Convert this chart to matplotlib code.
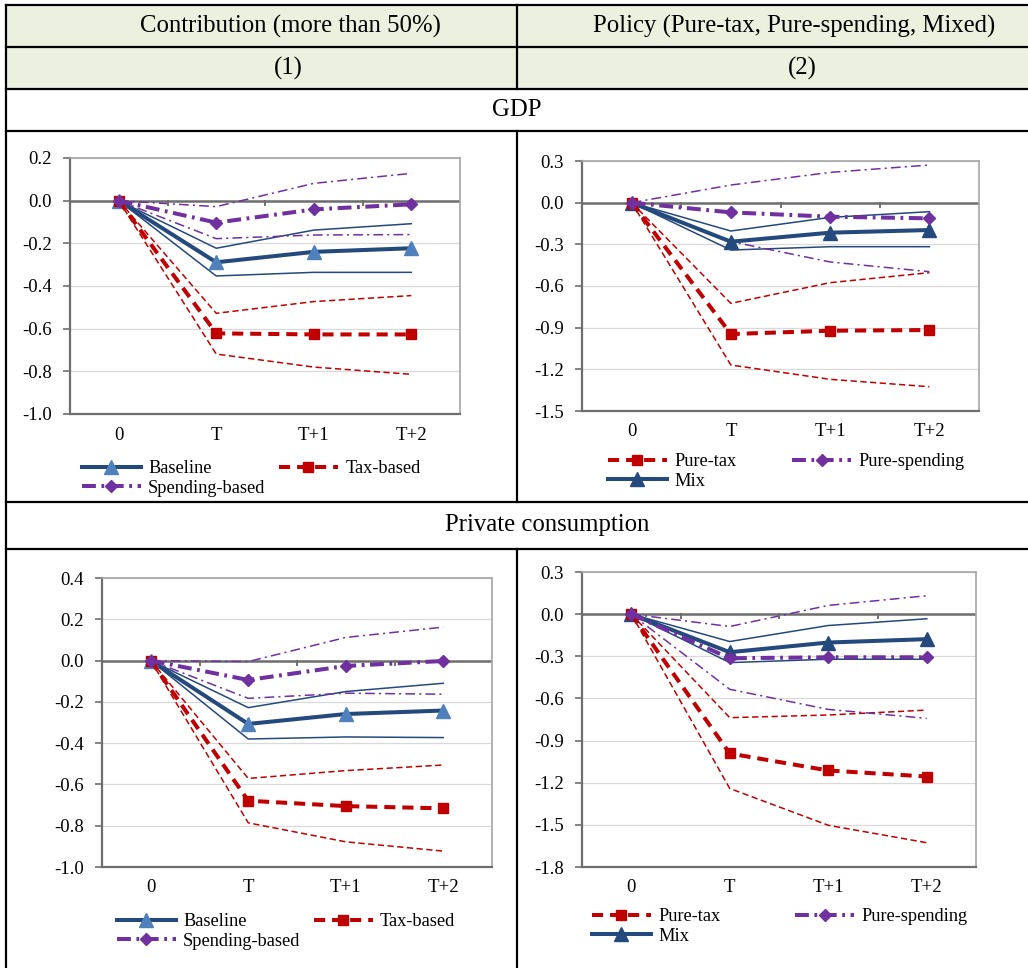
import matplotlib
matplotlib.use("Agg")
import numpy as np
import matplotlib.pyplot as plt
from matplotlib.lines import Line2D
from matplotlib.patches import Rectangle
from matplotlib.ticker import FuncFormatter

plt.rcParams['font.family'] = ['Liberation Serif', 'DejaVu Serif']
plt.rcParams['lines.scale_dashes'] = False
plt.rcParams['axes.unicode_minus'] = False

W, H = 1028, 968

periods = ['0', 'T', 'T+1', 'T+2']

# GDP - contribution split (col 1)
gdp_base = [0, -0.289, -0.240, -0.223]
gdp_base_hi = [0, -0.223, -0.138, -0.108]
gdp_base_lo = [0, -0.353, -0.336, -0.336]
gdp_tax = [0, -0.622, -0.627, -0.627]
gdp_tax_hi = [0, -0.528, -0.473, -0.445]
gdp_tax_lo = [0, -0.719, -0.780, -0.814]
gdp_spend = [0, -0.103, -0.041, -0.017]
gdp_spend_hi = [0, -0.028, 0.081, 0.128]
gdp_spend_lo = [0, -0.178, -0.161, -0.159]

# GDP - policy type (col 2)
gdp_pure_tax = [0, -0.946, -0.922, -0.917]
gdp_pure_tax_hi = [0, -0.725, -0.576, -0.504]
gdp_pure_tax_lo = [0, -1.169, -1.272, -1.325]
gdp_pure_spend = [0, -0.070, -0.101, -0.113]
gdp_pure_spend_hi = [0, 0.127, 0.218, 0.271]
gdp_pure_spend_lo = [0, -0.280, -0.427, -0.497]
gdp_mix = [0, -0.281, -0.216, -0.197]
gdp_mix_hi = [0, -0.204, -0.106, -0.065]
gdp_mix_lo = [0, -0.341, -0.317, -0.317]

# private consumption - contribution split (col 1)
pc_base = [0, -0.307, -0.259, -0.242]
pc_base_hi = [0, -0.228, -0.150, -0.110]
pc_base_lo = [0, -0.380, -0.370, -0.373]
pc_tax = [0, -0.679, -0.705, -0.716]
pc_tax_hi = [0, -0.571, -0.533, -0.506]
pc_tax_lo = [0, -0.786, -0.878, -0.923]
pc_spend = [0, -0.094, -0.026, -0.002]
pc_spend_hi = [0, -0.005, 0.112, 0.162]
pc_spend_lo = [0, -0.183, -0.158, -0.163]

# private consumption - policy type (col 2)
pc_pure_tax = [0, -0.992, -1.113, -1.156]
pc_pure_tax_hi = [0, -0.737, -0.718, -0.683]
pc_pure_tax_lo = [0, -1.241, -1.503, -1.627]
pc_pure_spend = [0, -0.314, -0.307, -0.307]
pc_pure_spend_hi = [0, -0.088, 0.062, 0.131]
pc_pure_spend_lo = [0, -0.535, -0.678, -0.742]
pc_mix = [0, -0.271, -0.202, -0.178]
pc_mix_hi = [0, -0.195, -0.081, -0.033]
pc_mix_lo = [0, -0.345, -0.321, -0.321]

BLUE = '#24497D'
LBLUE = '#4F81BD'
RED = '#C00000'
PURPLE = '#7030A0'
AXGRAY = '#6E6E6E'

# thick line styles (point estimate) and thin band styles
sty_blue = dict(color=BLUE, lw=2.9, marker='^', ms=10, mfc=LBLUE, mec=LBLUE)
sty_mix = dict(color=BLUE, lw=2.9, marker='^', ms=10, mfc=BLUE, mec=BLUE)
sty_red = dict(color=RED, lw=2.9, dashes=(8, 5), marker='s', ms=7.5, mfc=RED, mec=RED)
sty_purple = dict(color=PURPLE, lw=2.9, dashes=(10, 4, 2, 4), marker='D', ms=6.5, mfc=PURPLE, mec=PURPLE)
band_blue = dict(color=BLUE, lw=1.1)
band_red = dict(color=RED, lw=1.1, dashes=(4.5, 2.5))
band_purple = dict(color=PURPLE, lw=1.1, dashes=(7, 3, 1.5, 3))


def fx(x):
    return x / W


def fy(y):
    return 1 - y / H


fig = plt.figure(figsize=(W / 100, H / 100), dpi=100)

# table header shading
fig.add_artist(Rectangle((fx(6), fy(89)), fx(W - 6), 84 / H, transform=fig.transFigure,
                         facecolor='#EBF1DE', edgecolor='none', zorder=0))

for y in [5, 47, 89, 131, 502, 549]:
    fig.add_artist(Line2D([fx(6), fx(W)], [fy(y), fy(y)], transform=fig.transFigure, color='black', lw=1.6))
fig.add_artist(Line2D([fx(6), fx(6)], [fy(5), fy(H)], transform=fig.transFigure, color='black', lw=1.6))
for y0, y1 in [(5, 89), (131, 502), (549, H)]:
    fig.add_artist(Line2D([fx(517), fx(517)], [fy(y0), fy(y1)], transform=fig.transFigure, color='black', lw=1.6))

hdr = dict(ha='center', va='center', fontsize=17.8)
fig.text(fx(290), fy(26), 'Contribution (more than 50%)', **hdr)
fig.text(fx(794), fy(26), 'Policy (Pure-tax, Pure-spending, Mixed)', **hdr)
fig.text(fx(288), fy(68), '(1)', **hdr)
fig.text(fx(802), fy(68), '(2)', **hdr)
fig.text(fx(517), fy(110), 'GDP', **hdr)
fig.text(fx(547), fy(525), 'Private consumption', **hdr)


def panel(box, ylim, step, series, order, leg_xy, colsp):
    left, top, right, bottom = box
    ax = fig.add_axes([fx(left), fy(bottom), (right - left) / W, (bottom - top) / H])
    x = np.arange(len(periods))
    handles = {}
    for label, mid, lo, hi, sty, bsty in series:
        ax.plot(x, lo, zorder=2, **bsty)
        ax.plot(x, hi, zorder=2, **bsty)
    for label, mid, lo, hi, sty, bsty in series:
        handles[label], = ax.plot(x, mid, zorder=3, label=label, **sty)

    ymin, ymax = ylim
    ax.set_xlim(-0.5, len(periods) - 0.5)
    ax.set_ylim(ymin, ymax)
    ticks = np.arange(ymin, ymax + step / 2, step)
    ax.set_yticks(ticks)
    ax.yaxis.set_major_formatter(FuncFormatter(lambda v, p: f'{round(v, 1) + 0.0:.1f}'))
    ax.grid(axis='y', color='#D9D9D9', lw=0.9, zorder=0)
    ax.set_axisbelow(True)
    ax.axhline(0, color=AXGRAY, lw=1.8, zorder=1)
    # category boundary ticks on the zero line
    z = (0 - ymin) / (ymax - ymin)
    tl = 4 / (bottom - top)
    for b in np.arange(0.5, len(periods) - 1, 1):
        ax.plot([b, b], [z, z - tl], color=AXGRAY, lw=1.4, transform=ax.get_xaxis_transform(), clip_on=False)

    ax.set_xticks(x, periods)
    ax.tick_params(axis='x', length=0, pad=9, labelsize=13.5)
    ax.tick_params(axis='y', length=5, width=1.2, color=AXGRAY, pad=8, labelsize=13.5)
    for s in ['left', 'bottom']:
        ax.spines[s].set_color(AXGRAY)
        ax.spines[s].set_linewidth(1.6)
    for s in ['top', 'right']:
        ax.spines[s].set_color('#A6A6A6')
        ax.spines[s].set_linewidth(1.2)

    ax.legend([handles[k] for k in order], order, ncol=2, loc='upper left',
              bbox_to_anchor=(fx(leg_xy[0]), fy(leg_xy[1])), bbox_transform=fig.transFigure,
              frameon=False, fontsize=13.2, handlelength=3.2, handletextpad=0.4,
              columnspacing=colsp, labelspacing=0.15, borderpad=0, borderaxespad=0, numpoints=1)
    return ax


panel((70, 158, 460, 414), (-1.0, 0.2), 0.2,
      [('Baseline', gdp_base, gdp_base_lo, gdp_base_hi, sty_blue, band_blue),
       ('Tax-based', gdp_tax, gdp_tax_lo, gdp_tax_hi, sty_red, band_red),
       ('Spending-based', gdp_spend, gdp_spend_lo, gdp_spend_hi, sty_purple, band_purple)],
      ['Baseline', 'Spending-based', 'Tax-based'], (82, 460), 0.75)

panel((582, 161, 979, 411), (-1.5, 0.3), 0.3,
      [('Mix', gdp_mix, gdp_mix_lo, gdp_mix_hi, sty_mix, band_blue),
       ('Pure-tax', gdp_pure_tax, gdp_pure_tax_lo, gdp_pure_tax_hi, sty_red, band_red),
       ('Pure-spending', gdp_pure_spend, gdp_pure_spend_lo, gdp_pure_spend_hi, sty_purple, band_purple)],
      ['Pure-tax', 'Mix', 'Pure-spending'], (608, 453), 3.05)

panel((102, 578, 492, 867), (-1.0, 0.4), 0.2,
      [('Baseline', pc_base, pc_base_lo, pc_base_hi, sty_blue, band_blue),
       ('Tax-based', pc_tax, pc_tax_lo, pc_tax_hi, sty_red, band_red),
       ('Spending-based', pc_spend, pc_spend_lo, pc_spend_hi, sty_purple, band_purple)],
      ['Baseline', 'Spending-based', 'Tax-based'], (117, 913), 0.75)

panel((582, 572, 976, 867), (-1.8, 0.3), 0.3,
      [('Mix', pc_mix, pc_mix_lo, pc_mix_hi, sty_mix, band_blue),
       ('Pure-tax', pc_pure_tax, pc_pure_tax_lo, pc_pure_tax_hi, sty_red, band_red),
       ('Pure-spending', pc_pure_spend, pc_pure_spend_lo, pc_pure_spend_hi, sty_purple, band_purple)],
      ['Pure-tax', 'Mix', 'Pure-spending'], (592, 908), 4.1)

fig.savefig('out.png', dpi=100)
